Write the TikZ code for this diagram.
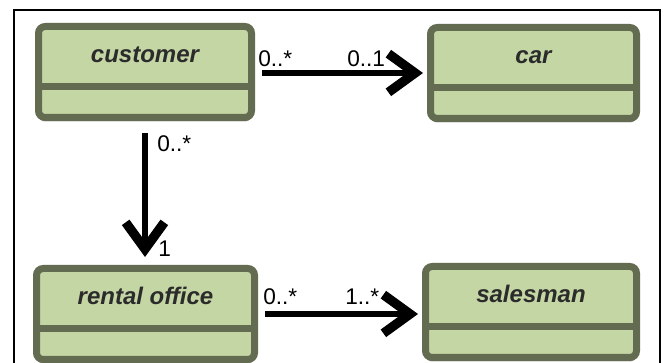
\documentclass[tikz,border=0pt]{standalone}
\usepackage{fontspec}
\setmainfont{Liberation Sans}
\usetikzlibrary{arrows.meta,shadows,calc}

\definecolor{umlborder}{HTML}{636B51}
\definecolor{umlfill}{HTML}{C5D6A5}
\definecolor{umltext}{HTML}{2B2B2B}

\tikzset{
  classbox/.style={rectangle, draw=umlborder, fill=umlfill, line width=5.25pt,
    rounded corners=5pt, inner sep=0pt, minimum height=68.25pt,
    drop shadow={shadow xshift=0pt, shadow yshift=-3pt, opacity=0.35, fill=black}},
  compsep/.style={draw=umlborder, line width=5.25pt, shorten <=3pt, shorten >=3pt},
  classname/.style={anchor=base, inner sep=0pt, text=umltext,
    font=\fontsize{18}{21}\selectfont\bfseries\itshape},
  mult/.style={anchor=base west, inner sep=0pt,
    font=\fontsize{17}{20}\selectfont},
  assoc/.style={line width=5pt,
    -{Straight Barb[length=20pt, width=29pt, line width=7pt]}},
}

\begin{document}
\begin{tikzpicture}[x=0.75pt, y=-0.75pt]
  \useasboundingbox (0,0) rectangle (665,363);

  % outer frame
  \draw[line width=1.1pt] (14,10) rectangle (660,400);

  % classes
  \node[classbox, minimum width=159.75pt] (customer) at (145,72) {};
  \node[classbox, minimum width=154.5pt]  (car)      at (533.5,73) {};
  \node[classbox, minimum width=163.5pt]  (rental)   at (145.5,314) {};
  \node[classbox, minimum width=158.25pt] (salesman) at (531,312) {};

  % compartment separators
  \foreach \c in {customer,car,rental,salesman}{
    \draw[compsep] ($(\c.north west)+(0,63.5)$) -- ($(\c.north east)+(0,63.5)$);
  }

  % class names
  \node[classname] (customer-name) at ($(customer.north)+(0,40)$) {customer};
  \node[classname] (car-name)      at ($(car.north)+(0,40)$) {car};
  \node[classname] (rental-name)   at ($(rental.north)+(0,40)$) {rental office};
  \node[classname] (salesman-name) at ($(salesman.north)+(0,40)$) {salesman};

  % associations
  \draw[assoc, shorten <=5.25pt, shorten >=3pt]
    (customer.east |- car.west) -- (car.west);
  \draw[assoc, shorten <=9pt, shorten >=6pt]
    (customer.south) -- (customer.south |- rental.north);
  \draw[assoc, shorten <=5.25pt, shorten >=3pt]
    (rental.east) -- (rental.east -| salesman.west);

  % multiplicities
  \node[mult] (m1) at (258,67)  {0..*};
  \node[mult] (m2) at (347,67)  {0..1};
  \node[mult] (m3) at (157,152) {0..*};
  \node[mult] (m4) at (158,257) {1};
  \node[mult] (m5) at (263,305) {0..*};
  \node[mult] (m6) at (345,305) {1..*};
\end{tikzpicture}
\end{document}
